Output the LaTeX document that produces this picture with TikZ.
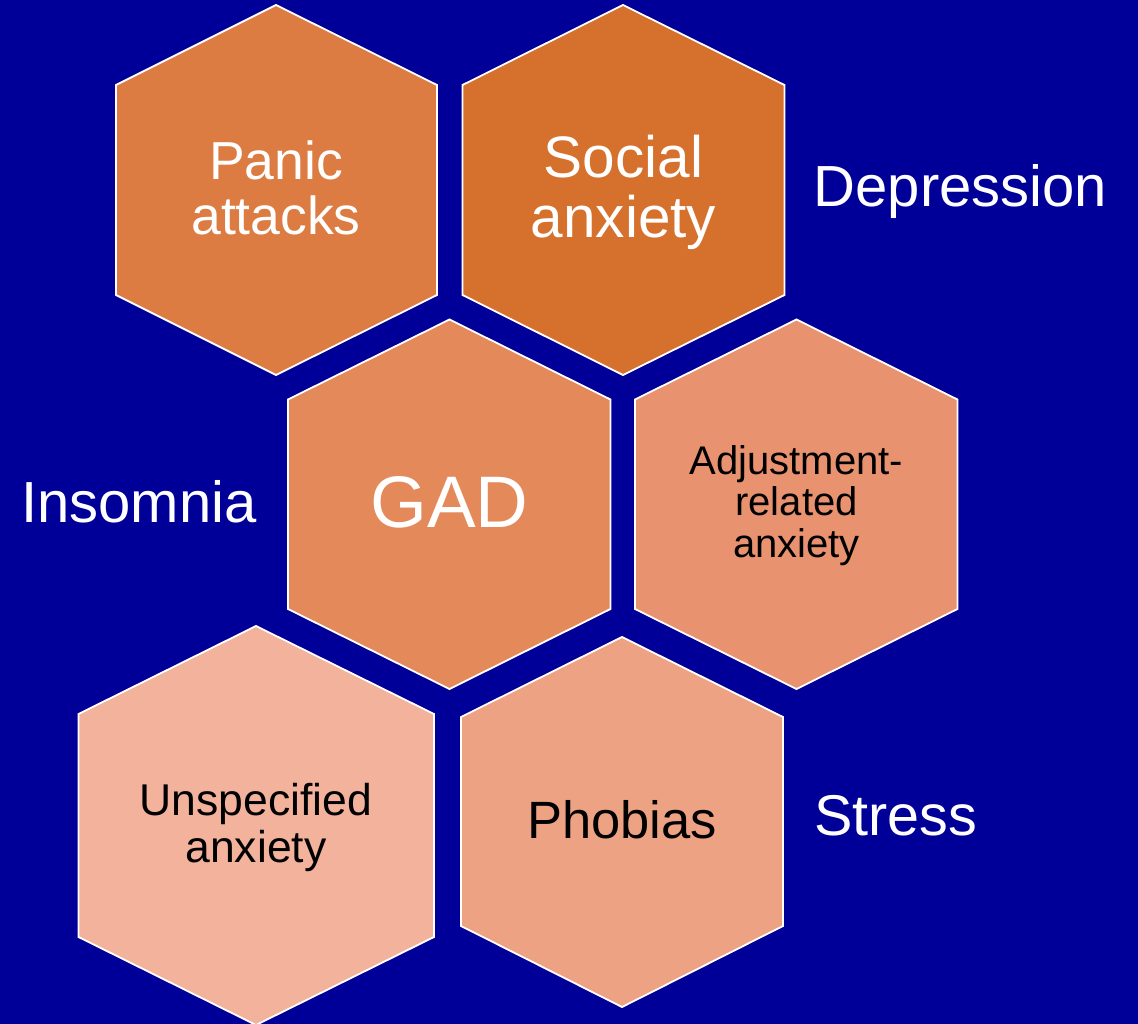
\documentclass[tikz,border=0pt]{standalone}
\usepackage{fontspec}
\setmainfont{Liberation Sans}
\definecolor{bgblue}{RGB}{0,0,153}
\definecolor{panicc}{RGB}{220,124,66}
\definecolor{socialc}{RGB}{214,112,45}
\definecolor{gadc}{RGB}{227,137,90}
\definecolor{adjc}{RGB}{233,146,111}
\definecolor{unspc}{RGB}{242,178,155}
\definecolor{phobc}{RGB}{238,162,132}
\begin{document}
\begin{tikzpicture}[x=1pt,y=-1pt,
  hexa/.style={draw=white,line width=1.8pt,line join=miter},
  lbl/.style={inner sep=0pt,anchor=base,align=center}]
\useasboundingbox (0,0) rectangle (1138,1024);
\fill[bgblue] (0,0) rectangle (1138,1024);
% hexagons
\filldraw[hexa,fill=panicc] (276,5) -- (437,85) -- (437,295) -- (276,375) -- (116,295) -- (116,85) -- cycle;
\filldraw[hexa,fill=socialc] (623,5) -- (784.5,85) -- (784.5,295) -- (623,375) -- (462.5,295) -- (462.5,85) -- cycle;
\filldraw[hexa,fill=gadc] (449.5,319.5) -- (610.5,399.5) -- (610.5,609) -- (449.5,689) -- (288,609) -- (288,399.5) -- cycle;
\filldraw[hexa,fill=adjc] (796.5,319.5) -- (957.5,399.5) -- (957.5,609) -- (796.5,689) -- (635,609) -- (635,399.5) -- cycle;
\filldraw[hexa,fill=unspc] (256,626) -- (434,714) -- (434,937) -- (256,1025) -- (78.5,937) -- (78.5,714) -- cycle;
\filldraw[hexa,fill=phobc] (622,637) -- (783,717) -- (783,926) -- (622,1007) -- (461,926) -- (461,717) -- cycle;
% labels
\node[lbl,text=white,font=\fontsize{53.5pt}{55pt}\selectfont] (panic) at (276,235) {Panic\\attacks};
\node[lbl,text=white,font=\fontsize{58.5pt}{60pt}\selectfont] (social) at (623.5,238) {Social\\anxiety};
\node[lbl,text=white,font=\fontsize{73pt}{76pt}\selectfont] (gad) at (449.5,527) {GAD};
\node[lbl,text=black,font=\fontsize{40pt}{41.3pt}\selectfont] (adj) at (796.5,557) {Adjustment-\\related\\anxiety};
\node[lbl,text=black,font=\fontsize{44.5pt}{46.7pt}\selectfont] (unsp) at (256,862) {Unspecified\\anxiety};
\node[lbl,text=black,font=\fontsize{52.5pt}{55pt}\selectfont] (phob) at (622,838) {Phobias};
\node[lbl,text=white,font=\fontsize{58pt}{60pt}\selectfont] (dep) at (960.5,207) {Depression};
\node[lbl,text=white,font=\fontsize{58pt}{60pt}\selectfont] (insom) at (139,522) {Insomnia};
\node[lbl,text=white,font=\fontsize{57.5pt}{60pt}\selectfont] (stress) at (895.5,835) {Stress};
\end{tikzpicture}
\end{document}
